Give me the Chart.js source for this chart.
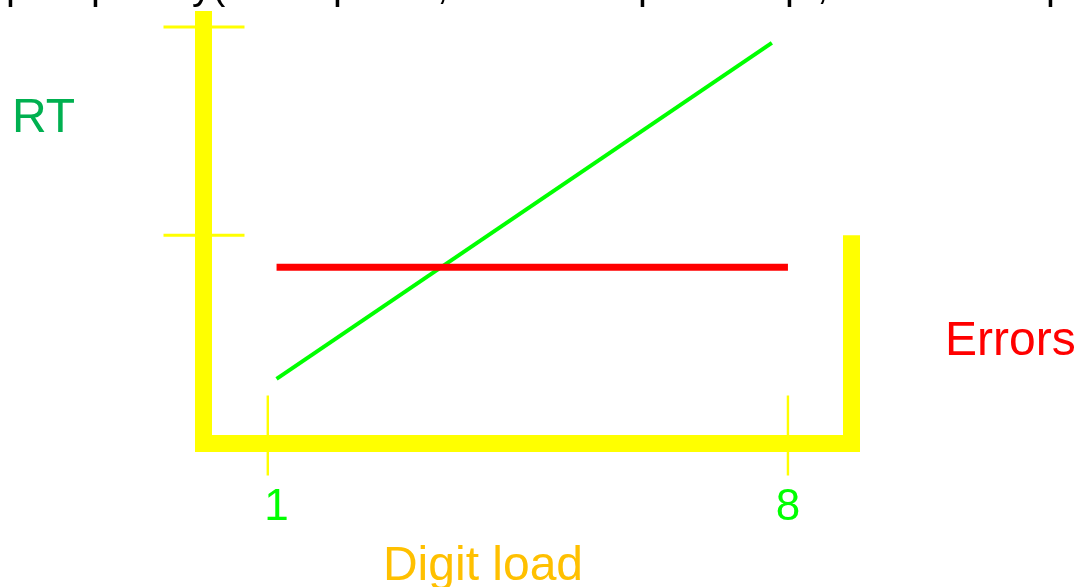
<!DOCTYPE html>
<html>
<head>
<meta charset="utf-8">
<script src="https://cdn.jsdelivr.net/npm/chart.js@4"></script>
<style>
    body { margin: 0; background: #ffffff; }
    #wrap { width: 1079px; height: 587px; position: relative; }
</style>
</head>
<body>
<div id="wrap"><canvas id="myChart"></canvas></div>
<script>
// data
const rtLoads = [1, 7.78]
const rtValues = [1.55, 9.62]
const errorLoads = [1, 8]
const errorValues = [4.23, 4.23]
const xTickValues = [1, 8]
const xTickLabels = ['1', '8']
const xTickLines = [0.88, 8]
const yTickValues = [5, 10]
const errorsAxisTop = 5

// bits of a cut off text line at the very top
const topFragments = [
    { t: 'p', x: 6 }, { t: 'p', x: 91 }, { t: 'y(', x: 192 }, { t: 'p', x: 333 },
    { t: ',', x: 437 }, { t: 'p', x: 638 }, { t: 'p', x: 785 }, { t: ',', x: 817 }, { t: 'p', x: 1046 }
]

const yellow = '#ffff00'
const fontName = '"Liberation Sans", Arial, sans-serif'

function toPoints(xs, ys) {
    return xs.map((x, i) => ({ x: x, y: ys[i] }))
}

// yellow frame + tick marks, drawn under the lines
const framePlugin = {
    id: 'frame',
    beforeDatasetsDraw(chart) {
        const ctx = chart.ctx
        const xs = chart.scales.x
        const ys = chart.scales.y
        const left = xs.getPixelForValue(xs.min)
        const right = xs.getPixelForValue(xs.max)
        const bottom = ys.getPixelForValue(0)
        const top = ys.getPixelForValue(ys.max)
        const w = 17
        ctx.save()
        ctx.fillStyle = yellow
        // left bar, bottom bar, right (errors) bar
        ctx.fillRect(left - w / 2, top - 16, w, bottom - top + 16 + w / 2)
        ctx.fillRect(left - w / 2, bottom - w / 2, right - left + w, w)
        let eTop = ys.getPixelForValue(errorsAxisTop)
        ctx.fillRect(right - w / 2, eTop, w, bottom - eTop + w / 2)
        // y ticks
        yTickValues.forEach(v => {
            let py = ys.getPixelForValue(v)
            ctx.fillRect(left - 40, py - 1.5, 81, 3)
        })
        // x ticks
        xTickLines.forEach(v => {
            let px = xs.getPixelForValue(v)
            ctx.fillRect(px - 1.2, bottom - 48, 2.4, 80)
        })
        ctx.restore()
    },
    afterDraw(chart) {
        const ctx = chart.ctx
        const xs = chart.scales.x
        ctx.save()
        ctx.textBaseline = 'alphabetic'

        ctx.fillStyle = '#000000'
        ctx.font = '40px ' + fontName
        ctx.textAlign = 'left'
        topFragments.forEach(f => ctx.fillText(f.t, f.x, -1))

        ctx.fillStyle = '#00ff00'
        ctx.font = '44px ' + fontName
        ctx.textAlign = 'center'
        xTickValues.forEach((v, i) => {
            ctx.fillText(xTickLabels[i], xs.getPixelForValue(v), 520)
        })

        ctx.fillStyle = '#ffc000'
        ctx.font = '48px ' + fontName
        ctx.fillText('Digit load', 483, 580)

        ctx.textAlign = 'left'
        ctx.fillStyle = '#00b050'
        ctx.fillText('RT', 12, 132)

        ctx.fillStyle = '#ff0000'
        ctx.fillText('Errors', 945, 355)
        ctx.restore()
    }
}

const ctx = document.getElementById('myChart').getContext('2d')
const myChart = new Chart(ctx, {
    type: 'line',
    data: {
        datasets: [{
            label: 'Errors',
            data: toPoints(errorLoads, errorValues),
            borderColor: '#ff0000',
            borderWidth: 7,
            pointRadius: 0
        }, {
            label: 'RT',
            data: toPoints(rtLoads, rtValues),
            borderColor: '#00ff00',
            borderWidth: 4,
            pointRadius: 0
        }]
    },
    options: {
        responsive: true,
        maintainAspectRatio: false,
        devicePixelRatio: 1,
        animation: false,
        layout: {
            padding: { left: 203.5, right: 227.5, top: 27, bottom: 143.5 }
        },
        plugins: {
            legend: { display: false },
            tooltip: { enabled: false }
        },
        scales: {
            x: { type: 'linear', min: 0, max: 8.87, display: false },
            y: { type: 'linear', min: 0, max: 10, display: false }
        }
    },
    plugins: [framePlugin]
})
</script>
</body>
</html>
